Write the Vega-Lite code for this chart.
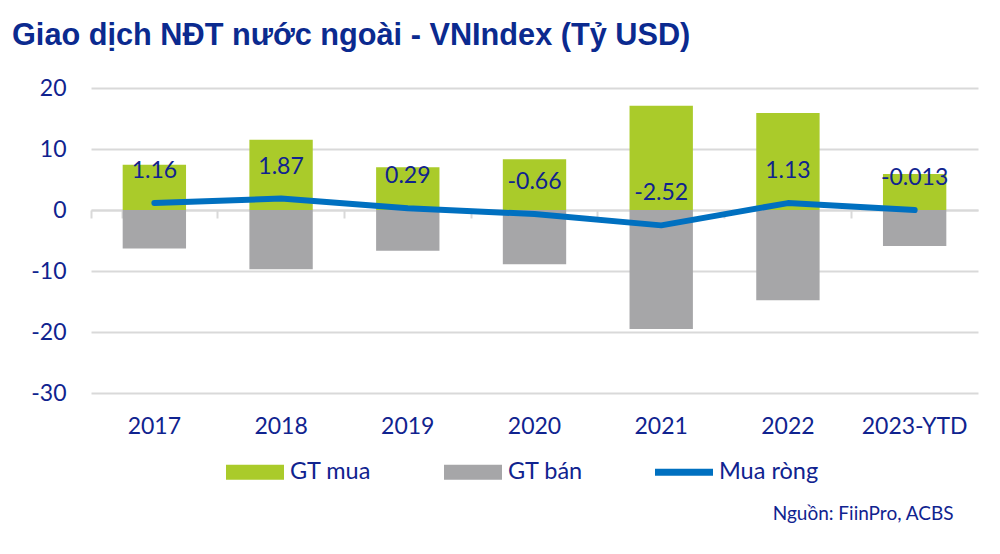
{
  "$schema": "https://vega.github.io/schema/vega-lite/v6.json",
  "width": 887,
  "height": 305,
  "autosize": {"type": "none"},
  "padding": {"left": 91, "top": 88, "right": 22, "bottom": 161},
  "background": "white",
  "title": {
    "text": "Giao dịch NĐT nước ngoài - VNIndex (Tỷ USD)",
    "anchor": "start",
    "frame": "group",
    "dx": -79,
    "offset": 25,
    "font": "Liberation Sans",
    "fontSize": 30.7,
    "fontWeight": "bold",
    "color": "#0b2a8f"
  },
  "config": {"view": {"stroke": null}, "font": "Lato"},
  "datasets": {
    "flows": [
      {"year": "2017", "series": "GT mua", "value": 7.4},
      {"year": "2017", "series": "GT bán", "value": -6.3},
      {"year": "2018", "series": "GT mua", "value": 11.5},
      {"year": "2018", "series": "GT bán", "value": -9.7},
      {"year": "2019", "series": "GT mua", "value": 7.0},
      {"year": "2019", "series": "GT bán", "value": -6.7},
      {"year": "2020", "series": "GT mua", "value": 8.3},
      {"year": "2020", "series": "GT bán", "value": -8.9},
      {"year": "2021", "series": "GT mua", "value": 17.1},
      {"year": "2021", "series": "GT bán", "value": -19.5},
      {"year": "2022", "series": "GT mua", "value": 15.9},
      {"year": "2022", "series": "GT bán", "value": -14.8},
      {"year": "2023-YTD", "series": "GT mua", "value": 5.9},
      {"year": "2023-YTD", "series": "GT bán", "value": -5.9}
    ],
    "net": [
      {"year": "2017", "series": "Mua ròng", "value": 1.16},
      {"year": "2018", "series": "Mua ròng", "value": 1.87},
      {"year": "2019", "series": "Mua ròng", "value": 0.29},
      {"year": "2020", "series": "Mua ròng", "value": -0.66},
      {"year": "2021", "series": "Mua ròng", "value": -2.52},
      {"year": "2022", "series": "Mua ròng", "value": 1.13},
      {"year": "2023-YTD", "series": "Mua ròng", "value": -0.013}
    ]
  },
  "layer": [
    {
      "data": {"name": "flows"},
      "mark": {"type": "bar"},
      "encoding": {
        "x": {
          "field": "year", "type": "nominal", "sort": null,
          "scale": {"paddingInner": 0.5, "paddingOuter": 0.25},
          "axis": {
            "labelAngle": 0, "labelFont": "Lato", "labelFontSize": 23, "labelColor": "#10238f",
            "labelPadding": 22, "ticks": false, "domain": false, "grid": false,
            "title": "Nguồn: FiinPro, ACBS", "titleFont": "Lato", "titleFontSize": 19,
            "titleFontWeight": "normal", "titleColor": "#10238f", "titleAnchor": "end",
            "titleAlign": "right", "titleBaseline": "middle", "titleX": 862, "titleY": 120
          }
        },
        "y": {
          "field": "value", "type": "quantitative", "stack": null,
          "scale": {"domain": [-30, 20], "nice": false, "zero": false},
          "axis": {
            "title": null, "values": [-30, -20, -10, 0, 10, 20], "labelFont": "Lato",
            "labelExpr": "replace(datum.label, '−', '-')",
            "labelFontSize": 23, "labelColor": "#10238f", "labelPadding": 25,
            "ticks": false, "domain": false, "grid": true, "gridColor": "#d9d9d9", "gridWidth": 2
          }
        },
        "color": {
          "field": "series", "type": "nominal",
          "scale": {"domain": ["GT mua", "GT bán", "Mua ròng"], "range": ["#aacb2a", "#a6a6a8", "#0070c0"]},
          "legend": {
            "orient": "none", "legendX": 135, "legendY": 355, "direction": "horizontal",
            "title": null, "symbolSize": 3364, "labelFont": "Lato", "labelFontSize": 23.5,
            "labelColor": "#10238f", "labelOffset": 6, "columnPadding": 72,
            "symbolStrokeWidth": 0, "padding": 0,
            "encode": {
              "symbols": {
                "update": {
                  "shape": {"signal": "datum.value === 'Mua ròng' ? 'M-1,-0.12H1V0.12H-1Z' : 'M-1,-0.26H1V0.26H-1Z'"},
                  "fill": {"scale": "color", "field": "value"},
                  "fillOpacity": {"value": 1},
                  "opacity": {"value": 1}
                }
              }
            }
          }
        }
      }
    },
    {
      "data": {"name": "net"},
      "mark": {"type": "line", "strokeWidth": 6, "strokeCap": "round", "strokeJoin": "round"},
      "encoding": {
        "x": {
          "field": "year", "type": "nominal", "sort": null,
          "axis": {
            "orient": "bottom", "offset": -183, "labels": false, "ticks": true, "tickSize": 8,
            "tickColor": "#d9d9d9", "tickWidth": 2, "domain": true, "domainColor": "#d9d9d9",
            "domainWidth": 2, "bandPosition": -0.5, "tickExtra": true, "title": null, "grid": false
          }
        },
        "y": {"field": "value", "type": "quantitative", "axis": {"title": null}},
        "color": {"field": "series", "type": "nominal"}
      }
    },
    {
      "data": {"name": "net"},
      "mark": {"type": "text", "dy": -32, "fontSize": 23, "font": "Lato", "color": "#10238f", "baseline": "middle"},
      "encoding": {
        "x": {"field": "year", "type": "nominal", "sort": null, "axis": null},
        "y": {"field": "value", "type": "quantitative", "axis": {"title": null}},
        "text": {"field": "value", "type": "nominal"}
      }
    }
  ],
  "resolve": {"axis": {"x": "independent"}}
}
